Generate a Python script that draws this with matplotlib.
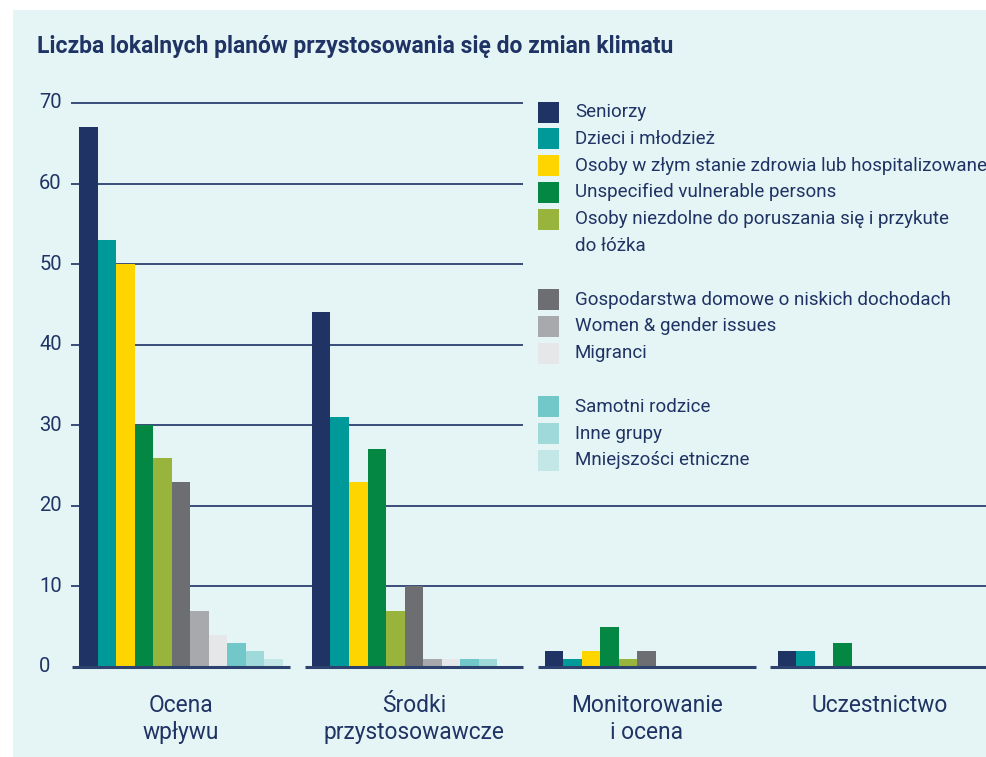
import matplotlib
matplotlib.use("Agg")
import matplotlib.pyplot as plt
from matplotlib.patches import Rectangle
from matplotlib import font_manager
import numpy as np

# ---------------- data ----------------
title = "Liczba lokalnych planów przystosowania się do zmian klimatu"
categories = ["Ocena\nwpływu", "Środki\nprzystosowawcze", "Monitorowanie\ni ocena", "Uczestnictwo"]
series_labels = [
    "Seniorzy",
    "Dzieci i młodzież",
    "Osoby w złym stanie zdrowia lub hospitalizowane",
    "Unspecified vulnerable persons",
    "Osoby niezdolne do poruszania się i przykute\ndo łóżka",
    "Gospodarstwa domowe o niskich dochodach",
    "Women & gender issues",
    "Migranci",
    "Samotni rodzice",
    "Inne grupy",
    "Mniejszości etniczne",
]
ocena_wplywu = [67, 53, 50, 30, 26, 23, 7, 4, 3, 2, 1]
srodki_przystosowawcze = [44, 31, 23, 27, 7, 10, 1, 1, 1, 1, 0]
monitorowanie_i_ocena = [2, 1, 2, 5, 1, 2, 0, 0, 0, 0, 0]
uczestnictwo = [2, 2, 0, 3, 0, 0, 0, 0, 0, 0, 0]
y_ticks = [0, 10, 20, 30, 40, 50, 60, 70]

# ---------------- style ----------------
colors = ["#1F3364", "#009999", "#FFD500", "#058744", "#99B43C",
          "#6D6E71", "#A7A9AC", "#E6E7E8", "#72C7C8", "#A0D9D9", "#C3E6E6"]
legend_rows = [0, 1, 2, 3, 4, 7, 8, 9, 11, 12, 13]
BG = "#E5F5F5"
NAVY = "#1F3364"
GRID = "#3A4D7A"

avail = {f.name for f in font_manager.fontManager.ttflist}
body_font = "Roboto" if "Roboto" in avail else "DejaVu Sans"
title_font = "Liberation Sans Narrow" if "Liberation Sans Narrow" in avail else body_font
plt.rcParams["font.family"] = [body_font, "DejaVu Sans"]

W, H = 987, 757
fig = plt.figure(figsize=(W / 100, H / 100), dpi=100)
fig.patch.set_facecolor("white")
fig.patches.append(Rectangle((13 / W, 0), 1, 1 - 10 / H, transform=fig.transFigure,
                             facecolor=BG, edgecolor="none", zorder=-10))

def fx(px):
    return px / W

def fy(py):
    return 1 - py / H

ax_left, ax_right, ax_bot, ax_top = 72, 987, 667, 103
ax = fig.add_axes([fx(ax_left), fy(ax_bot), fx(ax_right - ax_left), (ax_bot - ax_top) / H])
ax.set_facecolor("none")
ax.set_xlim(-0.468, 3.462)
ax.set_ylim(0, 70)
for s in ax.spines.values():
    s.set_visible(False)
ax.set_xticks([])
ax.set_yticks([])

data = [ocena_wplywu, srodki_przystosowawcze, monitorowanie_i_ocena, uczestnictwo]
n = len(series_labels)
bw = 0.0795
x = np.arange(len(categories))
for i in range(n):
    vals = [d[i] for d in data]
    ax.bar(x + (i - (n - 1) / 2) * bw, vals, width=bw, color=colors[i],
           edgecolor="none", zorder=2)

# gridlines and tick labels
for t in y_ticks:
    if t > 0:
        ax.axhline(t, color=GRID, lw=1.4, zorder=1, clip_on=False)
    ax.text(-0.036, t, str(t), transform=ax.get_yaxis_transform(), ha="left", va="center",
            fontsize=14.5, color=NAVY)
# baseline segments per group
for c in x:
    ax.hlines(0, c - 0.468, c + 0.468, color="#2E4270", lw=2.2, zorder=3, clip_on=False)

# category labels
for c, lab in zip(x, categories):
    ax.text(c, -3.4, lab, ha="center", va="top", fontsize=16.4, color=NAVY,
            linespacing=1.2, clip_on=False)

# legend panel covering gridlines
fig.patches.append(Rectangle((fx(523), fy(480)), fx(987 - 523), (480 - 93) / H,
                             transform=fig.transFigure, facecolor=BG, edgecolor="none", zorder=5))
row0, dy = 112, 26.8
for lab, col, r in zip(series_labels, colors, legend_rows):
    yc = row0 + r * dy
    fig.patches.append(Rectangle((fx(538), fy(yc + 10.5)), fx(21), 21 / H,
                                 transform=fig.transFigure, facecolor=col,
                                 edgecolor="none", zorder=6))
    for k, line in enumerate(lab.split("\n")):
        fig.text(fx(575), fy(yc + k * dy), line, ha="left", va="center",
                 fontsize=13.5, color=NAVY, zorder=7)

fig.text(fx(37), fy(46), title, ha="left", va="center", fontsize=16.5,
         fontweight="bold", color=NAVY, family=[title_font, "DejaVu Sans"])

fig.savefig("out.png", dpi=100, facecolor=fig.get_facecolor())
